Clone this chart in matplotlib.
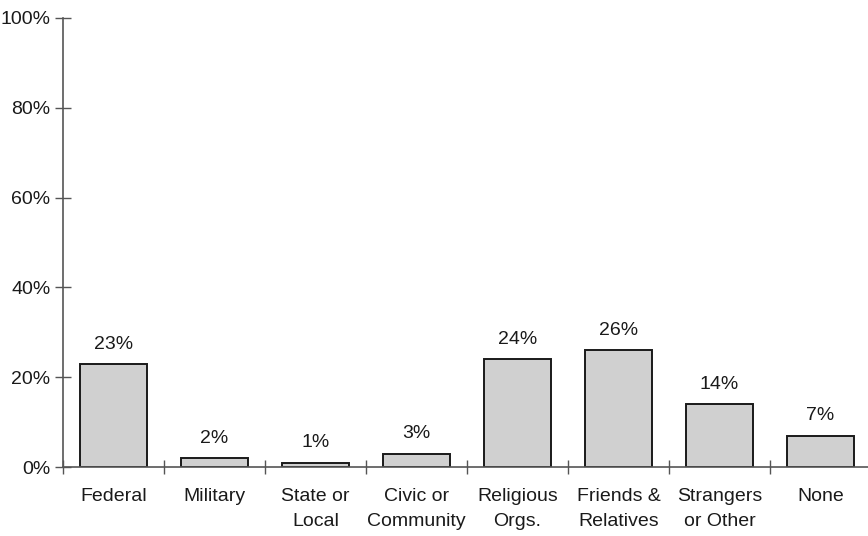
import matplotlib.pyplot as plt
from matplotlib.ticker import FuncFormatter, MultipleLocator

plt.rcParams['font.family'] = ['Liberation Sans', 'DejaVu Sans']

# share of respondents by source of help
categories = ["Federal", "Military", "State or\nLocal", "Civic or\nCommunity",
              "Religious\nOrgs.", "Friends &\nRelatives", "Strangers\nor Other", "None"]
shares = [23, 2, 1, 3, 24, 26, 14, 7]

FS = 14

fig = plt.figure(figsize=(8.68, 5.36), dpi=100)
ax = fig.add_axes([63 / 868, 69 / 536, 808 / 868, 449 / 536])

x = list(range(len(categories)))
ax.bar(x, shares, width=0.67, color="#d0d0d0", edgecolor="#1a1a1a", linewidth=1.4, zorder=3)

for xi, v in zip(x, shares):
    ax.annotate(f"{v}%", (xi, v), xytext=(0, 8), textcoords="offset points",
                ha="center", va="bottom", fontsize=FS, color="#1a1a1a")

ax.set_xlim(-0.5, len(categories) - 0.5)
ax.set_ylim(0, 100)
ax.yaxis.set_major_locator(MultipleLocator(20))
ax.yaxis.set_major_formatter(FuncFormatter(lambda v, _: f"{int(v)}%"))

# category labels sit between the boundary ticks
ax.set_xticks([i + 0.5 for i in x[:-1]] + [-0.5])
ax.set_xticklabels([])
ax.set_xticks(x, minor=True)
ax.set_xticklabels(categories, minor=True, fontsize=FS, color="#1a1a1a")
for t in ax.get_xticklabels(minor=True):
    t.set_linespacing(1.65)
ax.tick_params(axis="x", which="minor", length=0, pad=15)
ax.tick_params(axis="x", which="major", direction="inout", length=10, width=1, color="#555555")
ax.tick_params(axis="y", direction="inout", length=12, width=1, color="#555555",
               labelsize=FS, labelcolor="#1a1a1a", pad=3)

for side in ("top", "right"):
    ax.spines[side].set_visible(False)
for side in ("left", "bottom"):
    ax.spines[side].set_color("#555555")
    ax.spines[side].set_linewidth(1.2)
    ax.spines[side].set_zorder(4)

fig.savefig("out.png", dpi=100)
